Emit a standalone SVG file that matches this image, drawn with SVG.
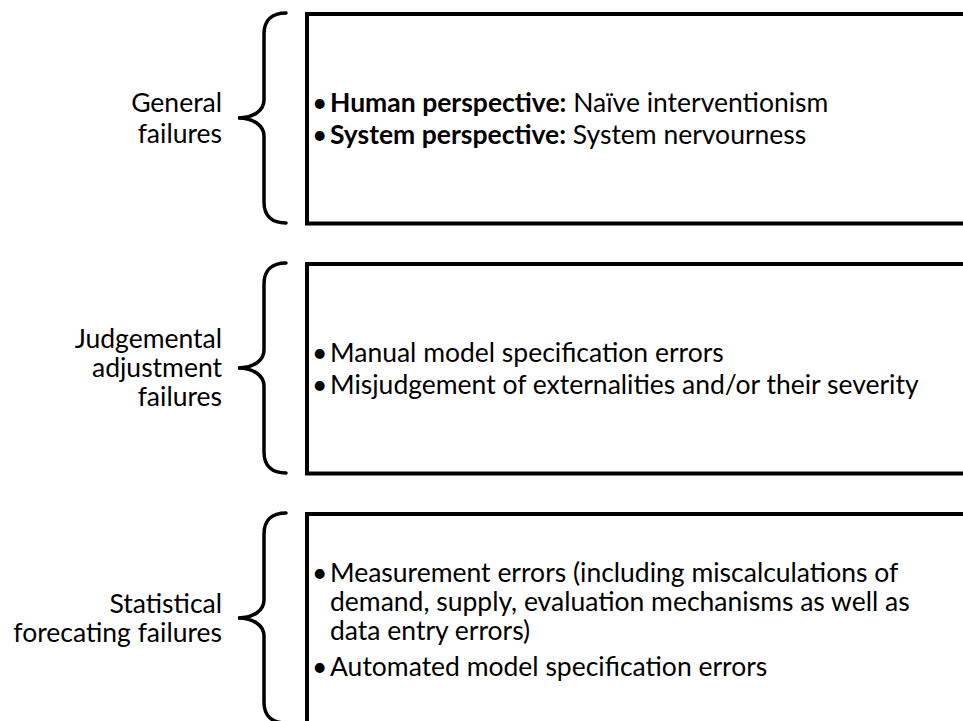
<svg xmlns="http://www.w3.org/2000/svg" width="963" height="721" viewBox="0 0 963 721">
  <style>
    .box { fill: #ffffff; stroke: #000000; stroke-width: 4; }
    .brace { fill: none; stroke: #000000; stroke-width: 3.5; stroke-linecap: round; stroke-linejoin: miter; }
    .label { font-family: Lato, "Liberation Sans", sans-serif; font-size: 26.5px; fill: #000000; text-anchor: end; }
    .item { font-family: Lato, "Liberation Sans", sans-serif; font-size: 26.5px; fill: #000000; }
    .b { font-weight: bold; }
  </style>
  <defs>
    <path id="curly" class="brace" d="M286,13 C272,13 264,20 264,34 L264,100 C264,110 254,118 238,118 C254,118 264,126 264,136 L264,202 C264,216 272,223 286,223"/>
  </defs>

  <rect width="963" height="721" fill="#ffffff"/>

  <!-- braces linking each category label to its box -->
  <g id="connectors">
    <use href="#curly"/>
    <use href="#curly" transform="translate(0,250)"/>
    <use href="#curly" transform="translate(0,500)"/>
  </g>

  <g id="general">
    <text class="label" x="222" y="112">General</text>
    <text class="label" x="222" y="143">failures</text>
    <rect class="box" x="307" y="14" width="700" height="209.5"/>
    <text class="item" y="112"><tspan x="312">•</tspan><tspan x="330" class="b">Human perspective:</tspan> Naïve interventionism</text>
    <text class="item" y="144"><tspan x="312">•</tspan><tspan x="330" class="b">System perspective:</tspan> System nervourness</text>
  </g>

  <g id="judgemental">
    <text class="label" x="222" y="348">Judgemental</text>
    <text class="label" x="222" y="377">adjustment</text>
    <text class="label" x="222" y="406">failures</text>
    <rect class="box" x="307" y="264" width="700" height="209.5"/>
    <text class="item" y="362"><tspan x="312">•</tspan><tspan x="330">Manual model specification errors</tspan></text>
    <text class="item" y="394"><tspan x="312">•</tspan><tspan x="330">Misjudgement of externalities and/or their severity</tspan></text>
  </g>

  <g id="statistical">
    <text class="label" x="222" y="613">Statistical</text>
    <text class="label" x="222" y="642">forecating failures</text>
    <rect class="box" x="307" y="514" width="700" height="209.5"/>
    <text class="item" y="582"><tspan x="312">•</tspan><tspan x="330">Measurement errors (including miscalculations of</tspan></text>
    <text class="item" x="330" y="611">demand, supply, evaluation mechanisms as well as</text>
    <text class="item" x="330" y="640">data entry errors)</text>
    <text class="item" y="676"><tspan x="312">•</tspan><tspan x="330">Automated model specification errors</tspan></text>
  </g>
</svg>
